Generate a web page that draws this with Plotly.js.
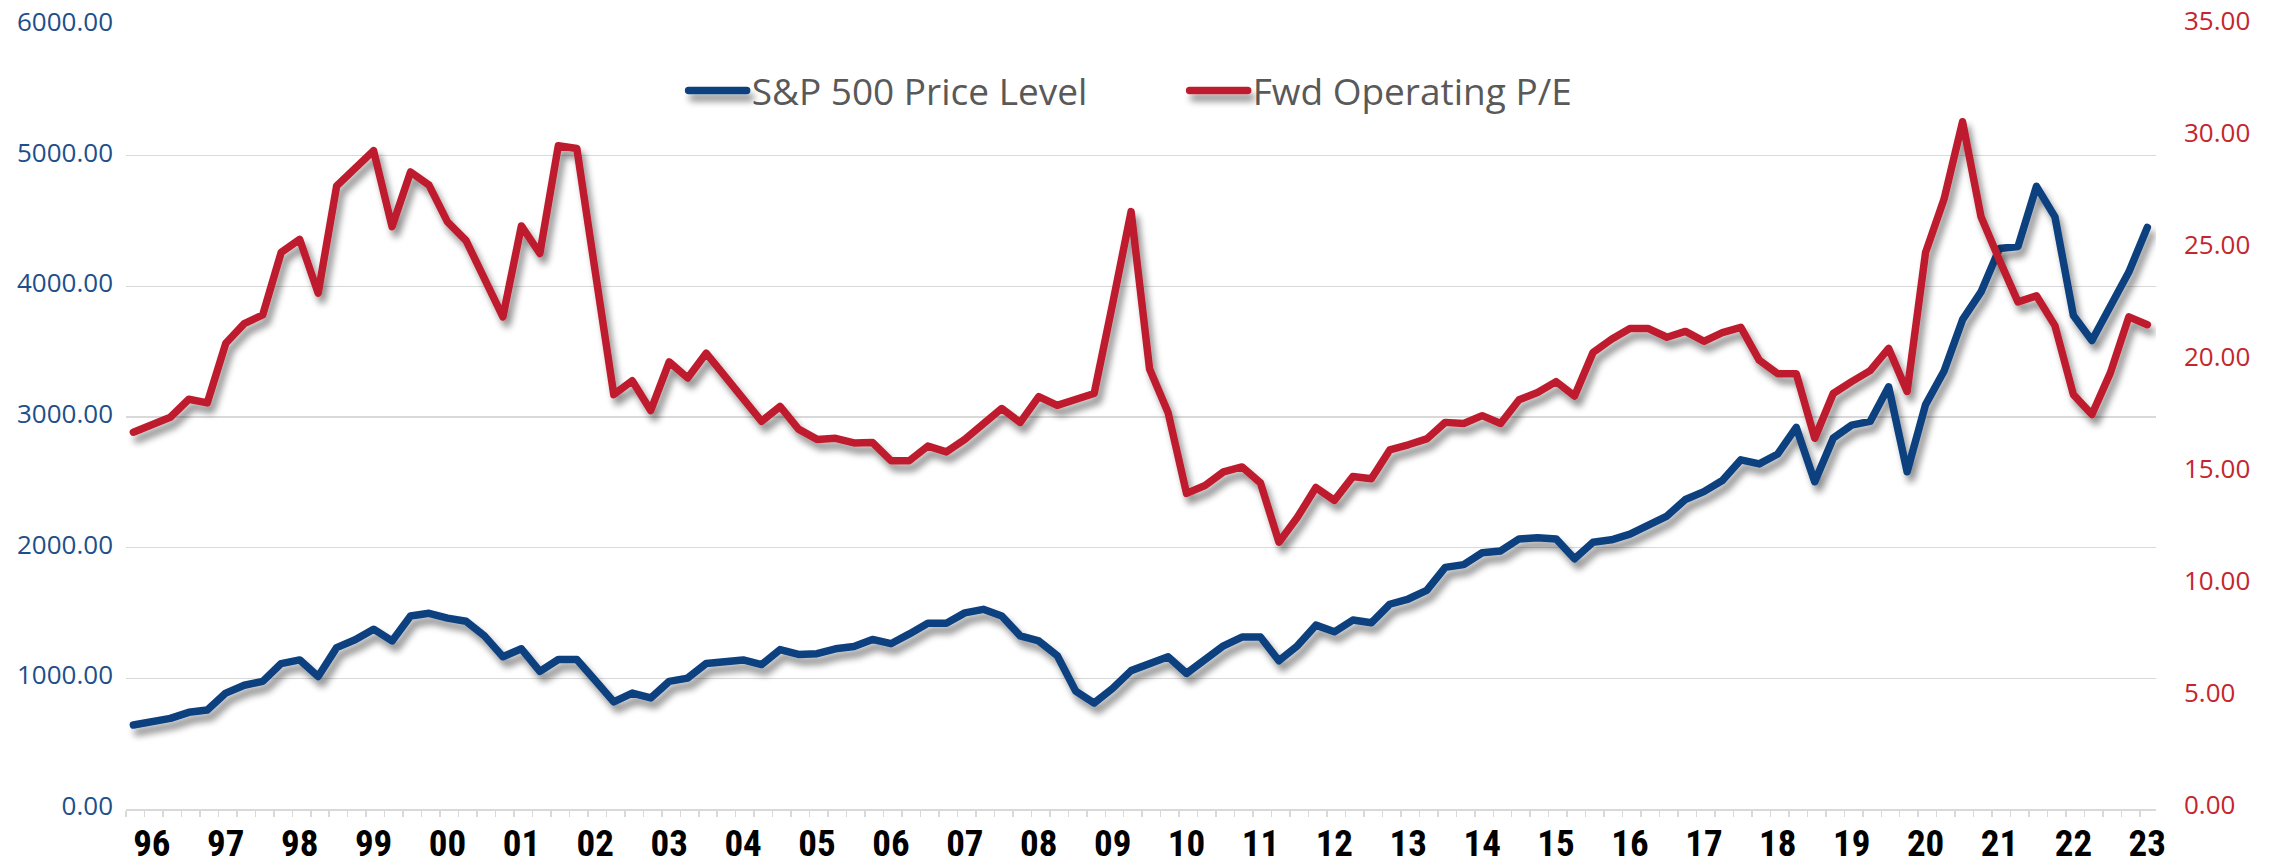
<!DOCTYPE html>
<html>
<head>
<meta charset="utf-8">
<script src="https://cdn.plot.ly/plotly-3.0.1.min.js"></script>
<style>
html, body { margin: 0; padding: 0; background: #ffffff; }
#chart { width: 2274px; height: 861px; }
.scatterlayer .js-line, .legendlines .js-line {
  stroke-linejoin: round;
  stroke-linecap: round;
}
</style>
</head>
<body>
<div id="chart"></div>
<script>
// Quarterly observations, 1996 Q1 .. 2023 Q2 (110 quarters)
const spxLevel = [
  643, 673, 694, 740, 757, 887, 947, 977, 1113, 1141,
  1014, 1235, 1295, 1376, 1286, 1477, 1498, 1461, 1437, 1325,
  1165, 1226, 1053, 1144, 1144, 983, 820, 887, 850, 977,
  1002, 1113, 1129, 1141, 1105, 1220, 1183, 1189, 1226, 1243,
  1298, 1265, 1340, 1422, 1422, 1501, 1528, 1477, 1325, 1286,
  1174, 902, 811, 923, 1059, 1113, 1165, 1038, 1144, 1249,
  1316, 1316, 1135, 1249, 1407, 1356, 1446, 1425, 1567, 1607,
  1673, 1849, 1870, 1961, 1975, 2067, 2076, 2067, 1915, 2042,
  2060, 2103, 2172, 2242, 2369, 2429, 2514, 2672, 2641, 2717,
  2920, 2505, 2838, 2938, 2966, 3231, 2581, 3095, 3352, 3745,
  3957, 4290, 4305, 4765, 4532, 3776, 3585, 3851, 4109, 4451
];

const fwdPE = [
  16.82, 17.14, 17.49, 18.29, 18.13, 20.79, 21.67, 22.06, 24.85, 25.43,
  23.03, 27.81, 28.61, 29.39, 26.00, 28.44, 27.85, 26.21, 25.38, 23.61,
  21.97, 26.03, 24.80, 29.61, 29.49, 23.97, 18.50, 19.12, 17.79, 19.96,
  19.24, 20.35, 19.38, 18.32, 17.31, 17.97, 16.96, 16.50, 16.55, 16.34,
  16.36, 15.55, 15.55, 16.20, 15.94, 16.50, 17.17, 17.88, 17.26, 18.41,
  18.02, 18.27, 18.55, 22.56, 26.67, 19.64, 17.70, 14.09, 14.44, 15.05,
  15.27, 14.56, 11.91, 13.02, 14.35, 13.78, 14.84, 14.74, 16.03, 16.26,
  16.52, 17.26, 17.21, 17.56, 17.21, 18.27, 18.59, 19.08, 18.44, 20.38,
  20.97, 21.45, 21.45, 21.06, 21.32, 20.88, 21.27, 21.50, 20.03, 19.43,
  19.43, 16.55, 18.55, 19.08, 19.57, 20.56, 18.64, 24.85, 27.23, 30.68,
  26.44, 24.50, 22.64, 22.91, 21.58, 18.50, 17.61, 19.47, 21.97, 21.62
];

const yearLabels = ['96','97','98','99','00','01','02','03','04','05','06','07','08','09',
                    '10','11','12','13','14','15','16','17','18','19','20','21','22','23'];

const seriesNames = ['S&P 500 Price Level', 'Fwd Operating P/E'];
const seriesColors = ['#0a3f7e', '#be1e2d'];

// category index for each quarter
const qIndex = spxLevel.map((_, i) => i);
// year labels sit on the second quarter slot of each year
const yearTickPos = yearLabels.map((_, k) => 1 + 4 * k);

const traces = [
  {
    x: qIndex, y: spxLevel, name: seriesNames[0], type: 'scatter', mode: 'lines',
    line: {color: seriesColors[0], width: 7.5}, yaxis: 'y', hoverinfo: 'skip'
  },
  {
    x: qIndex, y: fwdPE, name: seriesNames[1], type: 'scatter', mode: 'lines',
    line: {color: seriesColors[1], width: 7.5}, yaxis: 'y2', hoverinfo: 'skip'
  }
];

const layout = {
  width: 2274, height: 861,
  margin: {l: 126, r: 118, t: 25, b: 52, pad: 0},
  paper_bgcolor: '#ffffff', plot_bgcolor: '#ffffff',
  font: {family: '"Open Sans", "Noto Sans", sans-serif'},
  showlegend: true,
  legend: {
    orientation: 'h', x: 0.2747, xanchor: 'left', y: 0.9158, yanchor: 'middle',
    font: {size: 37, color: '#595959', family: '"Open Sans", sans-serif'},
    itemwidth: 58, entrywidth: 428, entrywidthmode: 'pixels',
    bgcolor: 'rgba(0,0,0,0)', borderwidth: 0
  },
  xaxis: {
    range: [-0.4, 109.47], tickmode: 'array', tickvals: yearTickPos, ticktext: yearLabels,
    ticks: '', showgrid: false, zeroline: false,
    showline: true, linecolor: '#d9d9d9', linewidth: 2,
    tickfont: {family: '"Roboto Condensed", "Liberation Sans Narrow", "Liberation Sans", sans-serif', size: 37, color: '#000000', weight: 'bold'},
    minor: {tick0: -0.4, dtick: 1, ticks: 'outside', ticklen: 6, tickcolor: '#d9d9d9', tickwidth: 1.5, showgrid: false},
    ticklabelstandoff: 1, fixedrange: true
  },
  yaxis: {
    range: [0, 6000], dtick: 1000, tickformat: '.2f',
    showgrid: true, gridcolor: '#d9d9d9', gridwidth: 1.5, zeroline: false, showline: false,
    ticks: '', tickfont: {size: 26, color: '#1d4f8a', family: '"Open Sans", sans-serif'},
    ticklabelstandoff: 12, ticklabelshift: -3, fixedrange: true
  },
  yaxis2: {
    range: [0, 35], dtick: 5, tickformat: '.2f', overlaying: 'y', side: 'right',
    showgrid: false, zeroline: false, showline: false,
    ticks: '', tickfont: {size: 26, color: '#c4262e', family: '"Open Sans", sans-serif'},
    ticklabelstandoff: 27, ticklabelshift: -4, fixedrange: true
  }
};

function addShadow(gd) {
  const NS = 'http://www.w3.org/2000/svg';
  const svgs = gd.querySelectorAll('svg.main-svg');
  svgs.forEach(function (svg, k) {
    let defs = svg.querySelector('defs');
    if (!defs) { defs = document.createElementNS(NS, 'defs'); svg.insertBefore(defs, svg.firstChild); }
    const f = document.createElementNS(NS, 'filter');
    f.setAttribute('id', 'lineshadow' + k);
    f.setAttribute('filterUnits', 'userSpaceOnUse');
    f.setAttribute('x', '-300'); f.setAttribute('y', '-300');
    f.setAttribute('width', '3200'); f.setAttribute('height', '1600');
    f.innerHTML =
      '<feGaussianBlur in="SourceAlpha" stdDeviation="3.5" result="blur"/>' +
      '<feOffset in="blur" dx="4" dy="7" result="off"/>' +
      '<feComponentTransfer in="off" result="soft"><feFuncA type="linear" slope="0.45"/></feComponentTransfer>' +
      '<feMerge><feMergeNode in="soft"/><feMergeNode in="SourceGraphic"/></feMerge>';
    defs.appendChild(f);
    svg.querySelectorAll('.scatterlayer .js-line, .legendlines .js-line').forEach(function (p) {
      p.setAttribute('filter', 'url(#lineshadow' + k + ')');
      p.style.filter = 'url(#lineshadow' + k + ')';
    });
  });
}

Plotly.newPlot('chart', traces, layout, {displayModeBar: false, staticPlot: true}).then(addShadow);
</script>
</body>
</html>
